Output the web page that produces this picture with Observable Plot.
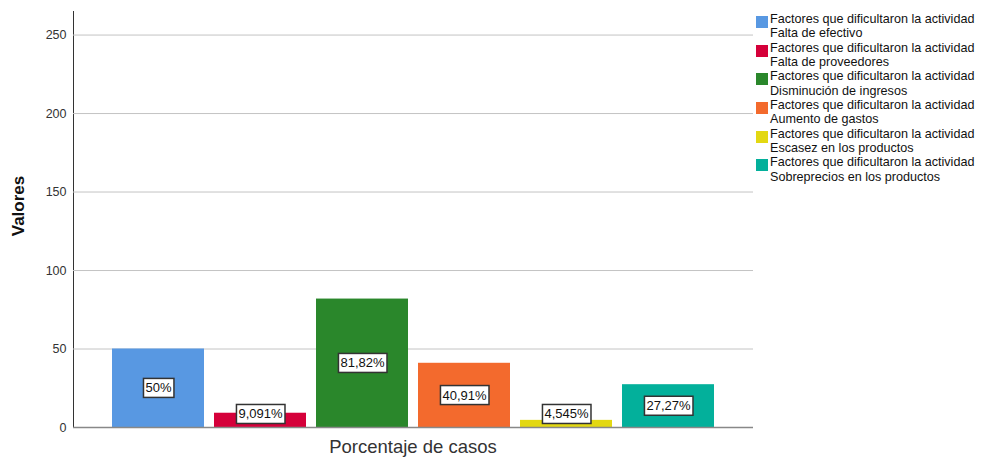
<!DOCTYPE html>
<html>
<head>
<meta charset="utf-8">
<script src="https://cdn.jsdelivr.net/npm/d3@7"></script>
<script src="https://cdn.jsdelivr.net/npm/@observablehq/plot@0.6"></script>
<style>
  body { margin: 0; background: white; font-family: Arial, "Liberation Sans", sans-serif; }
  #wrap { position: relative; width: 982px; height: 457px; }
  #legend { position: absolute; left: 756px; top: 12px; font-size: 12.6px; color: #111; line-height: 14.3px; white-space: nowrap; }
  .item { position: relative; padding-left: 14px; height: 28.7px; }
  .sw { position: absolute; left: 0; top: 4px; width: 12px; height: 12px; }
</style>
</head>
<body>
<div id="wrap"><div id="legend"></div></div>
<script>
const seriesPrefix = "Factores que dificultaron la actividad";
const categories = ["Falta de efectivo", "Falta de proveedores", "Disminución de ingresos", "Aumento de gastos", "Escasez en los productos", "Sobreprecios en los productos"];
const values = [50, 9.091, 81.82, 40.91, 4.545, 27.27];
const labels = ["50%", "9,091%", "81,82%", "40,91%", "4,545%", "27,27%"];
const colors = ["#5898e2", "#d5003a", "#2a872b", "#f36a2d", "#e3d812", "#03b09b"];
const yTicks = [0, 50, 100, 150, 200, 250];
const xTitle = "Porcentaje de casos";
const yTitle = "Valores";

const data = categories.map((c, i) => ({cat: c, value: values[i], label: labels[i]}));

const chart = Plot.plot({
  width: 982, height: 457,
  marginLeft: 73, marginRight: 229, marginTop: 11, marginBottom: 30,
  style: {fontFamily: "Arial, 'Liberation Sans', sans-serif", fontSize: "12.5px", color: "#333", background: "white", overflow: "visible"},
  x: {domain: categories, paddingInner: 0.1, paddingOuter: 0.37, axis: null},
  y: {domain: [0, 265], ticks: yTicks, label: null, tickSize: 0, tickPadding: 7, line: true},
  color: {domain: categories, range: colors},
  marks: [
    Plot.ruleY(yTicks.slice(1), {stroke: "#c4c4c4"}),
    Plot.barY(data, {x: "cat", y: "value", fill: "cat"}),
    Plot.ruleY([0], {stroke: "#888", strokeWidth: 1.5}),
    Plot.text(data, {x: "cat", y: d => Math.max(d.value / 2, 8.4), text: "label", fill: "#111", fontSize: 13, className: "vlabel"})
  ]
});
document.getElementById("wrap").prepend(chart);

const svg = d3.select(chart);
// axis line color
svg.selectAll("[aria-label='y-axis'] path, [aria-label='y-axis'] line").attr("stroke", "#888");
// boxes behind value labels
svg.selectAll(".vlabel text").each(function() {
  const b = this.getBBox();
  const r = d3.select(this.parentNode).insert("rect", () => this)
    .attr("x", b.x - 2).attr("y", b.y - 2)
    .attr("width", b.width + 4).attr("height", b.height + 4)
    .attr("fill", "white").attr("stroke", "#333").attr("stroke-width", 1.5);
  const t = this.getAttribute("transform");
  if (t) r.attr("transform", t);
});
// titles
svg.append("text").attr("x", 413).attr("y", 453).attr("text-anchor", "middle")
  .attr("font-size", 18.5).attr("fill", "#333").text(xTitle);
svg.append("text").attr("transform", "translate(24,206) rotate(-90)").attr("text-anchor", "middle")
  .attr("font-size", 17).attr("font-weight", "bold").attr("fill", "#111").text(yTitle);

// legend
const legend = d3.select("#legend");
categories.forEach((c, i) => {
  const it = legend.append("div").attr("class", "item");
  it.append("div").attr("class", "sw").style("background", colors[i]);
  it.append("div").text(seriesPrefix);
  it.append("div").text(c);
});
</script>
</body>
</html>
